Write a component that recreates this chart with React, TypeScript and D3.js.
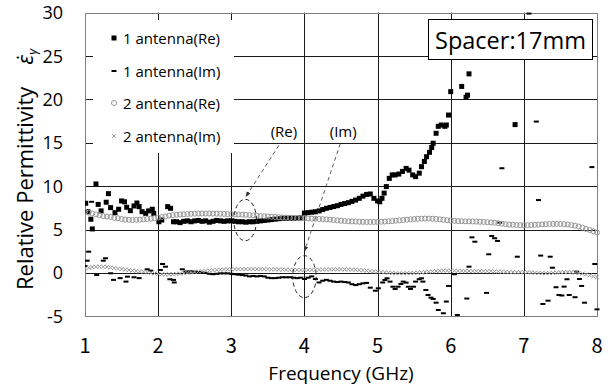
import React from "react";
import * as d3 from "d3";

// ---------- data ----------
const xTicks = [1, 2, 3, 4, 5, 6, 7, 8];
const yTicks = [-5, 0, 5, 10, 15, 20, 25, 30];
const seriesNames = ["1 antenna(Re)", "1 antenna(Im)", "2 antenna(Re)", "2 antenna(Im)"];

// 2 antenna: measured on a 0.05 GHz grid from 1 to 8 GHz
const freq2 = d3.range(0, 141).map((i) => 1 + i * 0.05);
const re2 = [
  7.05, 6.95, 6.85, 6.75, 6.65, 6.55, 6.5, 6.45, 6.35, 6.3,
  6.22, 6.15, 6.12, 6.1, 6.12, 6.15, 6.18, 6.22, 6.26, 6.3,
  6.38, 6.45, 6.52, 6.6, 6.66, 6.7, 6.74, 6.77, 6.8, 6.82,
  6.83, 6.84, 6.85, 6.85, 6.85, 6.84, 6.83, 6.82, 6.8, 6.79,
  6.78, 6.76, 6.74, 6.72, 6.7, 6.67, 6.64, 6.6, 6.57, 6.54,
  6.5, 6.47, 6.45, 6.42, 6.4, 6.38, 6.36, 6.34, 6.32, 6.3,
  6.3, 6.28, 6.26, 6.24, 6.22, 6.2, 6.17, 6.14, 6.1, 6.06,
  6.02, 5.98, 5.95, 5.93, 5.92, 5.9, 5.89, 5.88, 5.88, 5.88,
  5.88, 5.9, 5.92, 5.95, 5.98, 6.02, 6.06, 6.1, 6.14, 6.18,
  6.21, 6.24, 6.26, 6.27, 6.27, 6.25, 6.22, 6.18, 6.13, 6.08,
  6.04, 6.0, 5.98, 5.96, 5.95, 5.94, 5.93, 5.92, 5.9, 5.88,
  5.85, 5.82, 5.78, 5.73, 5.68, 5.62, 5.58, 5.55, 5.52, 5.5,
  5.5, 5.5, 5.52, 5.55, 5.57, 5.6, 5.62, 5.64, 5.65, 5.65,
  5.64, 5.62, 5.58, 5.52, 5.45, 5.35, 5.22, 5.08, 4.95, 4.8,
  4.65,
];
const im2 = [
  0.5, 0.6, 0.68, 0.72, 0.74, 0.72, 0.68, 0.62, 0.56, 0.5,
  0.44, 0.38, 0.33, 0.28, 0.22, 0.17, 0.12, 0.06, 0.0, -0.06,
  -0.12, -0.15, -0.17, -0.17, -0.15, -0.12, -0.08, -0.03, 0.02, 0.07,
  0.12, 0.16, 0.2, 0.24, 0.28, 0.31, 0.34, 0.37, 0.39, 0.41,
  0.42, 0.43, 0.44, 0.44, 0.45, 0.45, 0.45, 0.44, 0.44, 0.43,
  0.42, 0.41, 0.4, 0.39, 0.38, 0.37, 0.36, 0.35, 0.35, 0.34,
  0.34, 0.35, 0.36, 0.37, 0.38, 0.39, 0.4, 0.41, 0.42, 0.42,
  0.42, 0.41, 0.4, 0.38, 0.36, 0.33, 0.3, 0.26, 0.22, 0.18,
  0.14, 0.1, 0.06, 0.02, -0.01, -0.03, -0.04, -0.04, -0.03, -0.02,
  0.0, 0.03, 0.06, 0.1, 0.14, 0.18, 0.21, 0.24, 0.26, 0.27,
  0.27, 0.26, 0.25, 0.24, 0.23, 0.22, 0.21, 0.2, 0.2, 0.2,
  0.2, 0.19, 0.18, 0.16, 0.14, 0.12, 0.1, 0.08, 0.08, 0.08,
  0.1, 0.08, 0.05, 0.02, 0.0, -0.02, -0.03, -0.02, 0.0, 0.04,
  0.08, 0.1, 0.1, 0.08, 0.05, 0.0, -0.08, -0.18, -0.28, -0.4,
  -0.5,
];

// 1 antenna (Re): scattered low-band points
const re1LowFreq = [1.01, 1.04, 1.08, 1.1, 1.15, 1.18, 1.22, 1.29, 1.32, 1.35, 1.41, 1.46, 1.5, 1.54, 1.57, 1.62, 1.67, 1.71, 1.74, 1.78, 1.83, 1.87, 1.92, 1.94, 2.01, 2.05, 2.13, 2.17, 2.21];
const re1LowVal = [8.03, 7.06, 6.19, 5.07, 10.26, 7.9, 7.15, 8.15, 9.14, 7.53, 6.95, 7.34, 8.3, 8.2, 7.57, 7.18, 7.72, 8.06, 7.64, 7.06, 6.87, 7.15, 7.34, 6.87, 5.9, 6.1, 7.64, 7.45, 5.9];
// 1 antenna (Re): dense band, 0.05 GHz grid 2.25 .. 5.00
const re1MidFreq = d3.range(0, 56).map((i) => 2.25 + i * 0.05);
const re1MidVal = [
  5.9, 5.8, 5.95, 6.0, 5.9, 6.0, 6.05, 5.95, 6.0, 5.85,
  5.95, 6.05, 6.0, 5.95, 6.0, 6.0, 5.95, 5.9, 5.9, 5.85,
  5.9, 5.9, 5.95, 6.0, 6.05, 6.1, 6.15, 6.2, 6.25, 6.3,
  6.3, 6.3, 6.3, 6.3, 6.35, 6.9, 6.95, 7.0, 7.05, 7.15,
  7.3, 7.45, 7.55, 7.65, 7.75, 7.9, 8.0, 8.1, 8.25, 8.4,
  8.6, 8.85, 9.05, 9.1, 8.6, 8.3,
];
// 1 antenna (Re): high band
const re1HighFreq = [5.03, 5.06, 5.09, 5.12, 5.16, 5.2, 5.24, 5.29, 5.34, 5.39, 5.43, 5.48, 5.52, 5.57, 5.6, 5.64, 5.67, 5.71, 5.74, 5.76, 5.8, 5.83, 5.87, 5.92, 5.94, 5.97, 6.0, 6.15, 6.21, 6.23, 6.25, 6.88];
const re1HighVal = [8.2, 8.6, 9.2, 9.95, 10.9, 11.3, 11.3, 11.4, 11.7, 12.05, 11.85, 11.3, 11.1, 11.5, 12.25, 12.85, 13.4, 13.9, 14.45, 14.95, 16.1, 16.9, 17.05, 16.9, 17.05, 18.2, 20.9, 21.5, 20.25, 20.5, 22.95, 17.1];

// 1 antenna (Im)
const im1LowFreq = [1.0, 1.03, 1.05, 1.09, 1.16, 1.25, 1.28, 1.35, 1.39, 1.48, 1.56, 1.58, 1.67, 1.74, 1.85, 1.9, 2.03, 2.06, 2.1, 2.16, 2.21, 2.22, 2.33, 2.38];
const im1LowVal = [0.8, 1.41, 2.45, 8.2, -0.24, 1.41, 1.69, -0.04, -0.8, -0.6, -1.0, -0.43, -0.5, -0.6, 0.42, 0.26, 0.34, 1.03, 0.72, -0.73, -0.8, -1.1, 0.42, 0.15];
const im1MidFreq = d3.range(0, 51).map((i) => 2.4 + i * 0.05);
const im1MidVal = [
  0.15, 0.2, 0.15, 0.1, 0.05, 0.0, -0.1, -0.15, -0.1, -0.05,
  -0.05, -0.05, -0.1, -0.15, -0.2, -0.25, -0.3, -0.4, -0.35, -0.4,
  -0.35, -0.4, -0.55, -0.6, -0.6, -0.55, -0.5, -0.5, -0.5, -0.55,
  -0.6, -0.55, -0.7, -0.55, -0.4, -0.7, -1.1, -0.9, -0.8, -0.9,
  -1.0, -1.05, -1.0, -1.05, -1.1, -1.3, -1.4, -1.3, -1.2, -1.15,
  -1.7,
];
const im1HighFreq = [4.97, 5.01, 5.07, 5.1, 5.13, 5.17, 5.21, 5.24, 5.28, 5.32, 5.35, 5.39, 5.42, 5.45, 5.49, 5.52, 5.57, 5.6, 5.62, 5.66, 5.69, 5.73, 5.76, 5.8, 5.83, 5.9, 5.94, 5.97, 6.05, 6.09, 6.22, 6.25, 6.29, 6.33, 6.49, 6.52, 6.56, 6.6, 6.64, 6.67, 6.7, 6.91, 7.07, 7.17, 7.2, 7.23, 7.26, 7.33, 7.36, 7.39, 7.44, 7.48, 7.52, 7.55, 7.59, 7.62, 7.7, 7.72, 7.76, 7.79, 7.83, 7.93, 7.97, 8.0];
const im1HighVal = [-2.05, -1.77, -1.1, -0.81, -0.62, -1.0, -1.59, -1.85, -1.59, -1.27, -1.0, -1.12, -1.59, -1.85, -1.59, -1.0, -0.73, -0.62, -1.0, -1.97, -2.54, -2.85, -3.0, -3.43, -4.27, -4.65, -3.3, -1.5, -0.15, -4.85, -2.95, 0.72, 4.1, 3.6, -2.3, 2.15, 4.26, 4.0, 3.69, 5.8, 12.07, 1.87, 29.9, 17.45, 8.4, 2.0, -3.58, -3.2, 1.87, 0.6, -1.65, -2.54, -2.6, -1.58, -0.73, -2.54, -2.8, 0.15, -0.7, -1.5, -3.43, 12.2, 1.03, -4.2];

// annotations (data coordinates)
const ellipses = [
  { f: 3.19, v: 6.1, rf: 0.155, rv: 2.39 },
  { f: 4.0, v: -0.43, rf: 0.16, rv: 2.42 },
];
const notes = [
  { text: "(Re)", f: 3.72, v: 16.2, fromF: 3.65, fromV: 14.7, toF: 3.2, toV: 8.8 },
  { text: "(Im)", f: 4.53, v: 16.2, fromF: 4.49, fromV: 14.9, toF: 4.0, toV: 2.5 },
];

const zip = (fs: number[], vs: number[]) => fs.map((f, i) => ({ f, v: vs[i] }));

export default function App() {
  const W = 614, H = 389;
  const x = d3.scaleLinear().domain([1, 8]).range([85, 597]);
  const y = d3.scaleLinear().domain([-5, 30]).range([316.3, 12.7]);
  const px = (v: number) => Math.round(x(v)) + 0.5;
  const py = (v: number) => Math.round(y(v)) + 0.5;

  const re1 = [...zip(re1LowFreq, re1LowVal), ...zip(re1MidFreq, re1MidVal), ...zip(re1HighFreq, re1HighVal)];
  const im1 = [...zip(im1LowFreq, im1LowVal), ...zip(im1MidFreq, im1MidVal), ...zip(im1HighFreq, im1HighVal)];
  const re2p = zip(freq2, re2);
  const im2p = zip(freq2, im2);

  const gray = "#969696";
  const font = "'Open Sans', sans-serif";
  const crossPath = (cx: number, cy: number, s: number) =>
    `M${cx - s},${cy - s}L${cx + s},${cy + s}M${cx - s},${cy + s}L${cx + s},${cy - s}`;

  const legendRows = [38, 71, 103, 136];

  return (
    <div style={{ position: "fixed", left: 0, top: 0 }}>
      <svg width={W} height={H} style={{ display: "block", background: "#fff" }}>
        <defs>
          <clipPath id="plot">
            <rect x={x(1)} y={y(30) - 3} width={x(8) - x(1) + 3} height={y(-5) - y(30) + 3} />
          </clipPath>
          <marker id="arr" viewBox="0 0 10 10" refX="9" refY="5" markerWidth="7" markerHeight="7" orient="auto-start-reverse">
            <path d="M0,1L10,5L0,9z" fill="#333" />
          </marker>
        </defs>

        {/* gridlines */}
        {yTicks.slice(1, -1).map((t) => (
          <line key={"gy" + t} x1={x(1)} x2={x(8)} y1={py(t)} y2={py(t)} stroke="#1a1a1a" strokeWidth={1} />
        ))}
        {xTicks.slice(1, -1).map((t) => (
          <line key={"gx" + t} x1={px(t)} x2={px(t)} y1={y(30)} y2={y(-5)} stroke="#1a1a1a" strokeWidth={1} />
        ))}
        <rect x={px(1)} y={py(30)} width={px(8) - px(1)} height={py(-5) - py(30)} fill="none" stroke="#7f7f7f" strokeWidth={1} />

        {/* series */}
        <g clipPath="url(#plot)">
          {re1.map((d, i) => (
            <rect key={"r1" + i} x={x(d.f) - 2.5} y={y(d.v) - 2.5} width={5} height={5} fill="#000" />
          ))}
          {im1.map((d, i) => (
            <rect key={"i1" + i} x={x(d.f) - 2.5} y={y(d.v) - 1} width={5} height={2} fill="#000" />
          ))}
          {re2p.map((d, i) => (
            <circle key={"r2" + i} cx={x(d.f)} cy={y(d.v)} r={2.5} fill="none" stroke={gray} strokeWidth={1} />
          ))}
          {im2p.map((d, i) => (
            <path key={"i2" + i} d={crossPath(x(d.f), y(d.v), 2)} stroke={gray} strokeWidth={1} fill="none" />
          ))}
        </g>

        {/* ellipses and arrows */}
        {ellipses.map((e, i) => (
          <ellipse key={"e" + i} cx={x(e.f)} cy={y(e.v)} rx={x(e.f + e.rf) - x(e.f)} ry={y(e.v) - y(e.v + e.rv)}
            fill="none" stroke="#222" strokeWidth={1} strokeDasharray="4,3" />
        ))}
        {notes.map((n, i) => (
          <g key={"n" + i}>
            <line x1={x(n.fromF)} y1={y(n.fromV)} x2={x(n.toF)} y2={y(n.toV)} stroke="#333" strokeWidth={0.8}
              strokeDasharray="4,3" markerEnd="url(#arr)" />
            <rect x={x(n.f) - 17} y={y(n.v) - 11} width={34} height={21} fill="#fff" />
            <text x={x(n.f)} y={y(n.v) + 5} textAnchor="middle" fontFamily={font} fontSize={15} fill="#000">{n.text}</text>
          </g>
        ))}

        {/* legend */}
        <rect x={93} y={20} width={141} height={133} fill="#fff" />
        {seriesNames.map((name, i) => {
          const cy = legendRows[i];
          const mx = 114;
          let mark;
          if (i === 0) mark = <rect x={mx - 2.5} y={cy - 2.5} width={5} height={5} fill="#000" />;
          else if (i === 1) mark = <rect x={mx - 2.5} y={cy - 1} width={5} height={2} fill="#000" />;
          else if (i === 2) mark = <circle cx={mx} cy={cy} r={2.5} fill="none" stroke={gray} strokeWidth={1} />;
          else mark = <path d={crossPath(mx, cy, 1.8)} stroke={gray} strokeWidth={1} />;
          return (
            <g key={"lg" + i}>
              {mark}
              <text x={123} y={cy + 5.5} fontFamily={font} fontSize={15} fill="#000">{name}</text>
            </g>
          );
        })}

        {/* spacer box */}
        <rect x={428.5} y={19.5} width={164} height={40} fill="#fff" stroke="#000" strokeWidth={1} />
        <text x={510.5} y={48.5} textAnchor="middle" fontFamily={font} fontSize={23.5} fill="#000">Spacer:17mm</text>

        {/* axes labels */}
        {yTicks.map((t) => (
          <text key={"yt" + t} x={63} y={y(t) + 6.5} textAnchor="end" fontFamily={font} fontSize={18} fill="#000">{t}</text>
        ))}
        {xTicks.map((t) => (
          <text key={"xt" + t} x={x(t)} y={353} textAnchor="middle" fontFamily="'Noto Sans CJK JP', sans-serif" fontSize={20} fill="#000">{t}</text>
        ))}
        <text x={(x(1) + x(8)) / 2} y={380} textAnchor="middle" fontFamily={font} fontSize={19} fill="#000">Frequency (GHz)</text>
        <text transform={`translate(33,290) rotate(-90)`} fontFamily={font} fontSize={22} fill="#000">
          Relative Permittivity
          <tspan dx={22} fontStyle="italic">{"\u03B5\u0307"}</tspan>
          <tspan fontSize={13} dy={4} fontStyle="italic">{"\u03B3"}</tspan>
        </text>
      </svg>
    </div>
  );
}
